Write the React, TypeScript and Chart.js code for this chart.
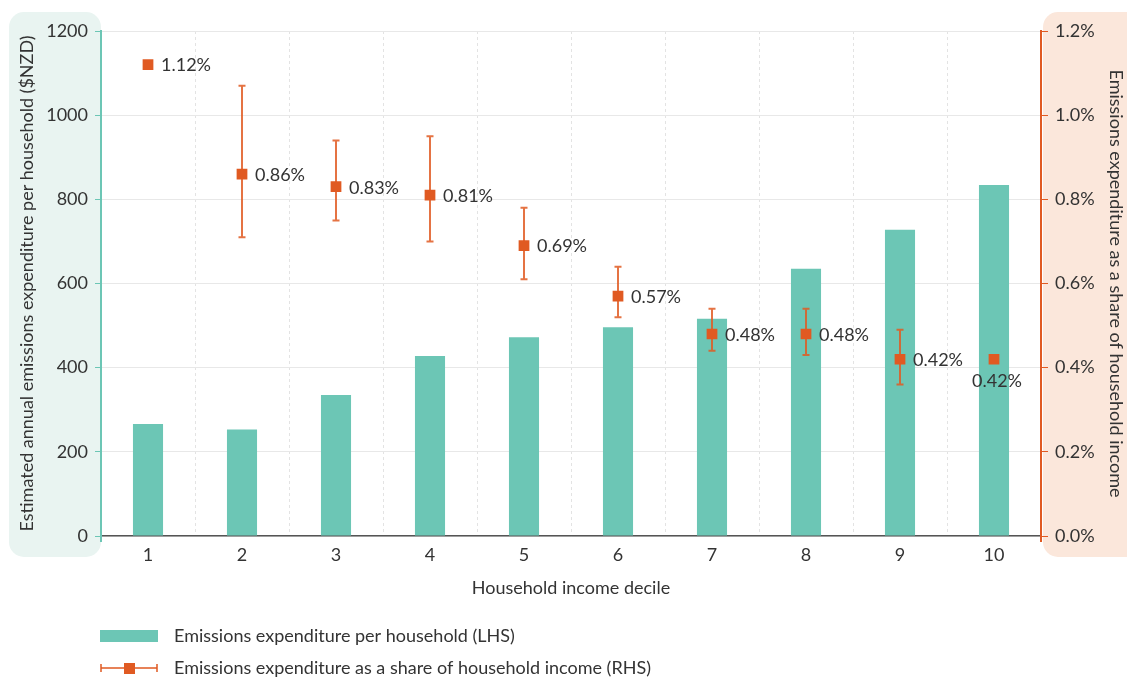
import React, { useEffect, useRef } from "react";
import { Chart, registerables } from "chart.js";

Chart.register(...registerables);

const deciles = ["1", "2", "3", "4", "5", "6", "7", "8", "9", "10"];
const expenditure = [266, 253, 335, 428, 472, 496, 516, 635, 728, 834];
const sharePct = [1.12, 0.86, 0.83, 0.81, 0.69, 0.57, 0.48, 0.48, 0.42, 0.42];
const shareUpper = [null, 1.07, 0.94, 0.95, 0.78, 0.64, 0.54, 0.54, 0.49, null];
const shareLower = [null, 0.71, 0.75, 0.70, 0.61, 0.52, 0.44, 0.43, 0.36, null];
const leftTicks = [0, 200, 400, 600, 800, 1000, 1200];
const rightTicks = [0, 0.2, 0.4, 0.6, 0.8, 1.0, 1.2];

const TEAL = "#6cc6b5";
const ORANGE = "#e05a22";
const TEXT = "#333333";
const FONT = "Lato";
const FS = 18;

const panelsPlugin = {
  id: "panels",
  beforeDraw(chart: any) {
    const ctx = chart.ctx;
    const ca = chart.chartArea;
    ctx.save();
    ctx.fillStyle = "#e9f4f1";
    ctx.beginPath();
    ctx.roundRect(9, 12, ca.left - 9, 545, 15);
    ctx.fill();
    ctx.fillStyle = "#fbe7db";
    ctx.beginPath();
    ctx.roundRect(ca.right + 2, 12, 120, 545, 15);
    ctx.fill();
    ctx.restore();
  },
  afterDraw(chart: any) {
    const ctx = chart.ctx;
    const ca = chart.chartArea;
    ctx.save();
    ctx.lineWidth = 2;
    ctx.strokeStyle = TEAL;
    ctx.beginPath();
    ctx.moveTo(ca.left, ca.bottom);
    ctx.lineTo(ca.left, ca.bottom + 6);
    ctx.stroke();
    ctx.strokeStyle = ORANGE;
    ctx.beginPath();
    ctx.moveTo(ca.right, ca.bottom);
    ctx.lineTo(ca.right, ca.bottom + 6);
    ctx.stroke();
    // legend
    ctx.font = `${FS}px ${FONT}`;
    ctx.textBaseline = "middle";
    ctx.textAlign = "left";
    ctx.fillStyle = TEAL;
    ctx.fillRect(100, 630, 58, 12);
    ctx.fillStyle = TEXT;
    ctx.fillText(chart.data.datasets[1].label, 174, 636);
    ctx.strokeStyle = ORANGE;
    ctx.lineWidth = 1.5;
    ctx.beginPath();
    ctx.moveTo(101, 668);
    ctx.lineTo(157, 668);
    ctx.moveTo(101, 664);
    ctx.lineTo(101, 672);
    ctx.moveTo(157, 664);
    ctx.lineTo(157, 672);
    ctx.stroke();
    ctx.fillStyle = ORANGE;
    ctx.fillRect(124, 663, 11, 11);
    ctx.fillStyle = TEXT;
    ctx.fillText(chart.data.datasets[0].label, 174, 668);
    ctx.restore();
  },
};

const errorBarsPlugin = {
  id: "errorBars",
  beforeDatasetDraw(chart: any, args: any) {
    if (args.index !== 0) return;
    const ctx = chart.ctx;
    const meta = chart.getDatasetMeta(0);
    const y1 = chart.scales.y1;
    ctx.save();
    ctx.strokeStyle = "rgba(224,90,34,0.85)";
    ctx.lineWidth = 2;
    meta.data.forEach((pt: any, i: number) => {
      const hi = shareUpper[i];
      const lo = shareLower[i];
      if (hi == null || lo == null) return;
      const yh = y1.getPixelForValue(hi);
      const yl = y1.getPixelForValue(lo);
      const x = pt.x;
      ctx.beginPath();
      ctx.moveTo(x, yh);
      ctx.lineTo(x, yl);
      ctx.moveTo(x - 3.5, yh);
      ctx.lineTo(x + 3.5, yh);
      ctx.moveTo(x - 3.5, yl);
      ctx.lineTo(x + 3.5, yl);
      ctx.stroke();
    });
    ctx.restore();
  },
  afterDatasetsDraw(chart: any) {
    const ctx = chart.ctx;
    const meta = chart.getDatasetMeta(0);
    ctx.save();
    ctx.font = `${FS}px ${FONT}`;
    ctx.fillStyle = TEXT;
    ctx.textBaseline = "middle";
    meta.data.forEach((pt: any, i: number) => {
      const txt = sharePct[i].toFixed(2) + "%";
      if (i === meta.data.length - 1) {
        ctx.textAlign = "center";
        ctx.fillText(txt, pt.x + 3, pt.y + 22);
      } else {
        ctx.textAlign = "left";
        ctx.fillText(txt, pt.x + 13, pt.y + 1);
      }
    });
    ctx.restore();
  },
};

export default function App() {
  const ref = useRef<HTMLCanvasElement>(null);
  useEffect(() => {
    if (!ref.current) return;
    Chart.defaults.font.family = FONT;
    Chart.defaults.font.size = FS;
    Chart.defaults.color = TEXT;
    const chart = new Chart(ref.current, {
      type: "bar",
      data: {
        labels: deciles,
        datasets: [
          {
            type: "line",
            label: "Emissions expenditure as a share of household income (RHS)",
            data: sharePct,
            yAxisID: "y1",
            showLine: false,
            pointStyle: "rect",
            pointRadius: 7.6,
            pointBackgroundColor: ORANGE,
            pointBorderColor: ORANGE,
            pointBorderWidth: 0,
            order: 0,
          } as any,
          {
            type: "bar",
            label: "Emissions expenditure per household (LHS)",
            data: expenditure,
            yAxisID: "y",
            backgroundColor: TEAL,
            barPercentage: 0.32,
            categoryPercentage: 1,
            order: 1,
          },
        ],
      },
      options: {
        animation: false,
        responsive: false,
        maintainAspectRatio: false,
        layout: { padding: { top: 31, bottom: 81, left: 0, right: 0 } },
        plugins: { legend: { display: false }, tooltip: { enabled: false } },
        scales: {
          x: {
            offset: true,
            grid: {
              offset: true,
              color: "#e3e3e3",
              drawTicks: false,
              lineWidth: 1,
            },
            border: { color: "#555555", width: 1.5, dash: [3, 3] },
            ticks: { padding: 8, color: TEXT, font: { size: FS } },
            title: {
              display: true,
              text: "Household income decile",
              color: TEXT,
              font: { size: FS },
              padding: { top: 0, bottom: 0 },
            },
            afterFit: (s: any) => {
              s.height = 63;
            },
          },
          y: {
            position: "left",
            min: 0,
            max: 1200,
            afterBuildTicks: (s: any) => {
              s.ticks = leftTicks.map((v) => ({ value: v }));
            },
            grid: { color: "#e8e8e8", tickColor: TEAL, tickLength: 6, lineWidth: 1 },
            border: { color: TEAL, width: 2 },
            ticks: {
              padding: 7,
              color: TEXT,
              font: { size: FS },
              callback: (v: any) => String(v),
            },
            title: {
              display: true,
              text: "Estimated annual emissions expenditure per household ($NZD)",
              color: TEXT,
              font: { size: FS },
              padding: { top: 16, bottom: 0 },
            },
            afterFit: (s: any) => {
              s.width = 101;
            },
          },
          y1: {
            position: "right",
            min: 0,
            max: 1.2,
            afterBuildTicks: (s: any) => {
              s.ticks = rightTicks.map((v) => ({ value: v }));
            },
            grid: { drawOnChartArea: false, tickColor: ORANGE, tickLength: 7 },
            border: { color: ORANGE, width: 2 },
            ticks: {
              padding: 7,
              color: TEXT,
              font: { size: FS },
              callback: (v: any) => Number(v).toFixed(1) + "%",
            },
            title: {
              display: true,
              text: "Emissions expenditure as a share of household income",
              color: TEXT,
              font: { size: FS },
              padding: { top: 0, bottom: 0 },
            },
            afterFit: (s: any) => {
              s.width = 86;
            },
          },
        },
      },
      plugins: [panelsPlugin, errorBarsPlugin],
    });
    return () => chart.destroy();
  }, []);
  return (
    <div style={{ position: "absolute", left: 0, top: 0, width: 1127, height: 680, background: "#fff" }}>
      <canvas ref={ref} width={1127} height={680} style={{ width: 1127, height: 680, display: "block" }} />
    </div>
  );
}
